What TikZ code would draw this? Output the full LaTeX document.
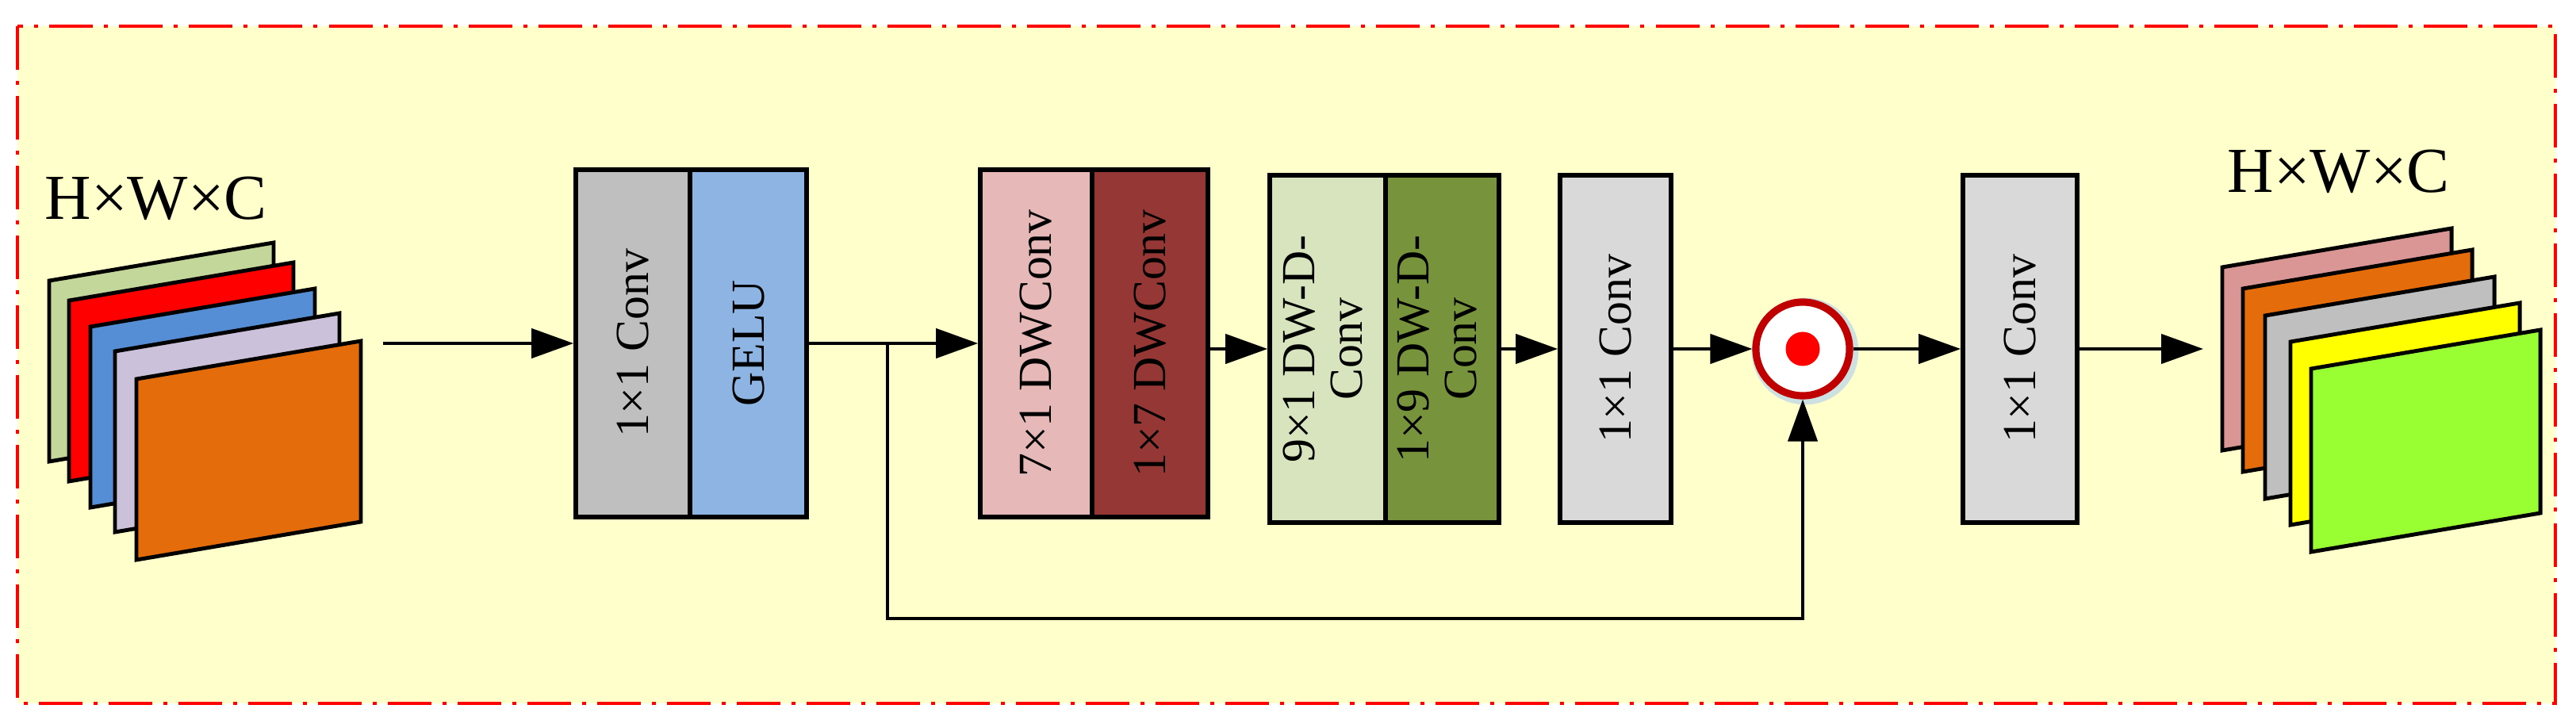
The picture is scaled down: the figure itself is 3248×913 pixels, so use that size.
\documentclass[tikz,border=0pt]{standalone}
\usepackage{fontspec}
\setmainfont{Liberation Serif}
\usetikzlibrary{arrows.meta}
\definecolor{bg}{HTML}{FFFFCC}
\begin{document}
\begin{tikzpicture}[x=0.01cm,y=-0.01cm,
  box/.style={draw=black,line width=1.6pt,inner sep=0pt,minimum height=4.38cm,font=\fontsize{17}{19}\selectfont,align=center},
  arr/.style={line width=1.2pt,-{Triangle[length=5.3mm,width=3.7mm]}},
  sh/.style={draw=black,line width=1.4pt,line join=miter},
  lab/.style={font=\fontsize{23}{26}\selectfont,inner sep=0pt}]
\useasboundingbox (0,0) rectangle (3248,913);
\fill[bg] (22,33) rectangle (3222,887);
\draw[red,line width=1.1pt,dash pattern=on 0.55cm off 0.14cm on 0.05cm off 0.14cm] (22,33) rectangle (3222,887);
% left stack
\definecolor{s1}{HTML}{C4D79B}\definecolor{s2}{HTML}{FF0000}\definecolor{s3}{HTML}{558ED5}\definecolor{s4}{HTML}{CCC1DA}\definecolor{s5}{HTML}{E46C0A}
\newcommand{\sheetL}[3]{\filldraw[sh,fill=#3] (#1,#2) -- (#1+283,#2-48) -- (#1+283,#2+180) -- (#1,#2+228) -- cycle;}
\sheetL{62}{354}{s1}
\sheetL{87}{379}{s2}
\sheetL{114}{412}{s3}
\sheetL{145}{443}{s4}
\sheetL{172}{478}{s5}
\node[lab,anchor=north west] (tl) at (56,222) {H×W×C};
% right stack
\definecolor{r1}{HTML}{D99694}\definecolor{r2}{HTML}{E46C0A}\definecolor{r3}{HTML}{BFBFBF}\definecolor{r4}{HTML}{FFFF00}\definecolor{r5}{HTML}{99FF33}
\newcommand{\sheetR}[3]{\filldraw[sh,fill=#3] (#1,#2) -- (#1+289,#2-49) -- (#1+289,#2+182) -- (#1,#2+231) -- cycle;}
\sheetR{2802}{337}{r1}
\sheetR{2828}{364}{r2}
\sheetR{2856}{398}{r3}
\sheetR{2888}{431}{r4}
\sheetR{2914}{465}{r5}
\node[lab,anchor=north west] (tr) at (2808,188) {H×W×C};
% boxes
\node[box,fill={rgb,255:red,191;green,191;blue,191},minimum width=1.44cm] (c1) at (798,433) {\rotatebox{90}{1×1 Conv}};
\node[box,fill={rgb,255:red,142;green,180;blue,227},minimum width=1.47cm] (g) at (943.5,433) {\rotatebox{90}{GELU}};
\node[box,fill={rgb,255:red,230;green,185;blue,184},minimum width=1.41cm] (d1) at (1306.5,433) {\rotatebox{90}{7×1 DWConv}};
\node[box,fill={rgb,255:red,149;green,55;blue,53},minimum width=1.46cm] (d2) at (1450,433) {\rotatebox{90}{1×7 DWConv}};
\node[box,fill={rgb,255:red,215;green,228;blue,189},minimum width=1.46cm] (e1) at (1674,440) {\rotatebox{90}{\begin{tabular}{@{}c@{}}9×1 DW-D-\\[-2pt]Conv\end{tabular}}};
\node[box,fill={rgb,255:red,119;green,147;blue,60},minimum width=1.43cm] (e2) at (1818.5,440) {\rotatebox{90}{\begin{tabular}{@{}c@{}}1×9 DW-D-\\[-2pt]Conv\end{tabular}}};
\node[box,fill={rgb,255:red,217;green,217;blue,217},minimum width=1.40cm] (c2) at (2037,440) {\rotatebox{90}{1×1 Conv}};
\node[box,fill={rgb,255:red,217;green,217;blue,217},minimum width=1.44cm] (c3) at (2547,440) {\rotatebox{90}{1×1 Conv}};
% multiply
\node[circle,draw={rgb,255:red,205;green,225;blue,225},line width=3pt,minimum size=1.24cm,inner sep=0pt] (ms) at (2276,443) {};
\node[circle,draw={rgb,255:red,192;green,0;blue,0},line width=2.6pt,fill=white,minimum size=1.18cm,inner sep=0pt] (m) at (2273,440) {};
\node[circle,fill=red,minimum size=0.43cm,inner sep=0pt] (md) at (2273,440) {};
% connectors
\coordinate (in) at (483,433);
\coordinate (out) at (2778,440);
\coordinate (br) at (1119,433);
\draw[arr] (in) -- (c1.west);
\draw[arr] (g.east) -- (d1.west);
\draw[arr] (d2.east |- e1.west) -- (e1.west);
\draw[arr] (e2.east) -- (c2.west);
\draw[arr] (c2.east) -- (m.west);
\draw[arr] (m.east) -- (c3.west);
\draw[arr] (c3.east) -- (out);
\draw[arr] (br) -- (1119,780) -| (m.south);
\end{tikzpicture}
\end{document}
